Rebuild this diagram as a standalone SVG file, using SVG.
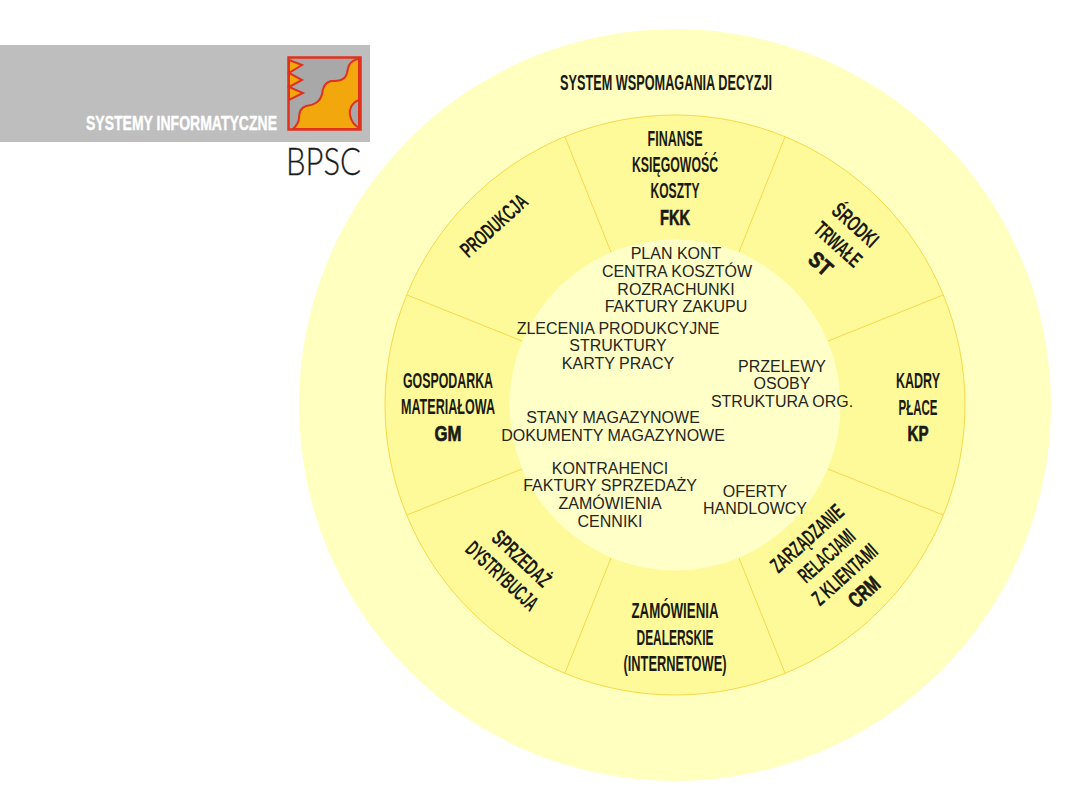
<svg xmlns="http://www.w3.org/2000/svg" width="1080" height="810" viewBox="0 0 1080 810">
<style>
.h{font-family:"Liberation Sans",Arial,sans-serif;font-size:22px;fill:#1a1a12;text-anchor:middle;font-weight:700}
.b{stroke:#1a1a12;stroke-width:.7px}
.t{font-family:"Liberation Sans",Arial,sans-serif;font-size:16px;fill:#25251c;text-anchor:middle}
.d{stroke:#f8d848;stroke-width:1;fill:none}
</style>
<rect width="1080" height="810" fill="#fff"/>
<g id="logo">
<rect x="0" y="45" width="370" height="97" fill="#bebebe"/>
<rect x="288.500" y="57.500" width="72" height="72" fill="#a8a8a8"/>
<path d="M358 59C349 61 348 67 347 73C345 81 338 81 331 81C324 83 323 88 322 94C320 103 313 105 306 106C300 108 299 113 299 118C299 123 296 126 293 129L359 129L359 59Z" fill="#f2a70d" stroke="#e0301e" stroke-width="2" stroke-linejoin="round"/>
<path d="M359 100C351 103 349 110 350 115C351 121 354 125 359 128Z" fill="#a8a8a8" stroke="#e0301e" stroke-width="2"/>
<path d="M289 60L302 65L289 73L302 80L289 87L303 93L289 100Z" fill="#f2a70d" stroke="#e0301e" stroke-width="2" stroke-linejoin="miter"/>
<rect x="288.500" y="57.500" width="72" height="72" fill="none" stroke="#e0301e" stroke-width="2.500"/>
<text x="86" y="130" font-family="Liberation Sans,sans-serif" font-weight="700" font-size="20" fill="#fff" stroke="#fff" stroke-width=".4" textLength="191" lengthAdjust="spacingAndGlyphs">SYSTEMY INFORMATYCZNE</text>
<text x="286" y="175" font-family="Lato,Noto Sans,sans-serif" font-weight="300" font-size="37" fill="#1a1a1a" stroke="#1a1a1a" stroke-width=".3" textLength="75" lengthAdjust="spacingAndGlyphs">BPSC</text>
</g>
<g id="rings">
<circle cx="675" cy="405" r="376" fill="#ffffc0"/>
<circle cx="675" cy="405" r="290" fill="#fffa99" stroke="#f8d848" stroke-width="1"/>
<circle cx="675" cy="405" r="165.500" fill="#ffffc8"/>
</g>
<g id="connectors">
<path class="d" d="M611 252L565 137M739 252L785 137M828 341L943 295M828 469L943 515M739 558L785 673M611 558L565 673M522 469L407 515M522 341L407 295"/>
</g>
<g id="dss"><text class="h" x="666" y="90" textLength="212" lengthAdjust="spacingAndGlyphs">SYSTEM WSPOMAGANIA DECYZJI</text></g>
<g id="fkk">
<text class="h" x="675" y="146" textLength="55" lengthAdjust="spacingAndGlyphs">FINANSE</text>
<text class="h" x="675" y="172" textLength="86" lengthAdjust="spacingAndGlyphs">KSIĘGOWOŚĆ</text>
<text class="h" x="675" y="198" textLength="49" lengthAdjust="spacingAndGlyphs">KOSZTY</text>
<text class="h b" x="675" y="225" textLength="30" lengthAdjust="spacingAndGlyphs">FKK</text>
</g>
<g id="st" transform="translate(833 250) rotate(42)">
<text class="h" x="0" y="-26" textLength="54" lengthAdjust="spacingAndGlyphs">ŚRODKI</text>
<text class="h" x="0" y="0" textLength="56" lengthAdjust="spacingAndGlyphs">TRWAŁE</text>
<text class="h b" x="0" y="26" textLength="24" lengthAdjust="spacingAndGlyphs">ST</text>
</g>
<g id="kp">
<text class="h" x="918" y="388" textLength="44" lengthAdjust="spacingAndGlyphs">KADRY</text>
<text class="h" x="918" y="415" textLength="39" lengthAdjust="spacingAndGlyphs">PŁACE</text>
<text class="h b" x="918" y="441" textLength="21" lengthAdjust="spacingAndGlyphs">KP</text>
</g>
<g id="crm" transform="translate(812 544) rotate(-42)">
<text class="h" x="0" y="0" textLength="90" lengthAdjust="spacingAndGlyphs">ZARZĄDZANIE</text>
<text class="h" x="3" y="26" textLength="68" lengthAdjust="spacingAndGlyphs">RELACJAMI</text>
<text class="h" x="4" y="52" textLength="80" lengthAdjust="spacingAndGlyphs">Z KLIENTAMI</text>
<text class="h b" x="6.500" y="78" textLength="34" lengthAdjust="spacingAndGlyphs">CRM</text>
</g>
<g id="zd">
<text class="h" x="675" y="618" textLength="87" lengthAdjust="spacingAndGlyphs">ZAMÓWIENIA</text>
<text class="h" x="675" y="645" textLength="77" lengthAdjust="spacingAndGlyphs">DEALERSKIE</text>
<text class="h" x="675" y="671" textLength="103" lengthAdjust="spacingAndGlyphs">(INTERNETOWE)</text>
</g>
<g id="sd" transform="translate(516.500 564) rotate(43)">
<text class="h" x="0" y="0" textLength="72" lengthAdjust="spacingAndGlyphs">SPRZEDAŻ</text>
<text class="h" x="-2.400" y="26" textLength="90" lengthAdjust="spacingAndGlyphs">DYSTRYBUCJA</text>
</g>
<g id="gm">
<text class="h" x="448" y="388" textLength="90" lengthAdjust="spacingAndGlyphs">GOSPODARKA</text>
<text class="h" x="448" y="414" textLength="94" lengthAdjust="spacingAndGlyphs">MATERIAŁOWA</text>
<text class="h b" x="448" y="441" textLength="27" lengthAdjust="spacingAndGlyphs">GM</text>
</g>
<g id="prod"><text class="h" transform="translate(499 231) rotate(-42)" textLength="82" lengthAdjust="spacingAndGlyphs">PRODUKCJA</text></g>
<g id="core">
<text class="t" x="676" y="259">PLAN KONT</text>
<text class="t" x="677" y="277">CENTRA KOSZTÓW</text>
<text class="t" x="676" y="295">ROZRACHUNKI</text>
<text class="t" x="676" y="312">FAKTURY ZAKUPU</text>
<text class="t" x="618" y="334">ZLECENIA PRODUKCYJNE</text>
<text class="t" x="618" y="351">STRUKTURY</text>
<text class="t" x="618" y="369">KARTY PRACY</text>
<text class="t" x="782" y="372">PRZELEWY</text>
<text class="t" x="782" y="389">OSOBY</text>
<text class="t" x="782" y="407">STRUKTURA ORG.</text>
<text class="t" x="613" y="423">STANY MAGAZYNOWE</text>
<text class="t" x="613" y="441">DOKUMENTY MAGAZYNOWE</text>
<text class="t" x="610" y="474">KONTRAHENCI</text>
<text class="t" x="610" y="491">FAKTURY SPRZEDAŻY</text>
<text class="t" x="610" y="509">ZAMÓWIENIA</text>
<text class="t" x="610" y="527">CENNIKI</text>
<text class="t" x="755" y="497">OFERTY</text>
<text class="t" x="755" y="514">HANDLOWCY</text>
</g>
</svg>
